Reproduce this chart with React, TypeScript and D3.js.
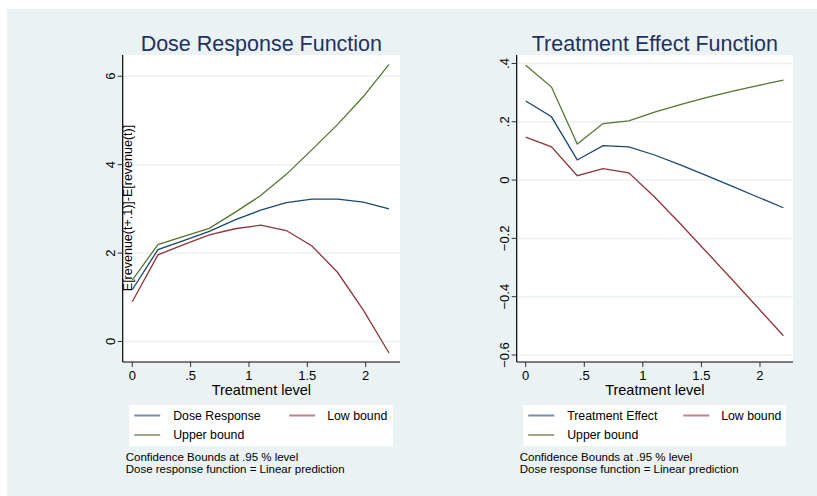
import * as d3 from "d3";

// treatment grid shared by both panels
const treatLevels = [0, 0.22, 0.44, 0.66, 0.88, 1.1, 1.32, 1.54, 1.76, 1.98, 2.2];

const doseResponse = [1.17, 2.08, 2.28, 2.49, 2.75, 2.97, 3.14, 3.22, 3.22, 3.15, 3.0];
const doseLow = [0.9, 1.96, 2.19, 2.41, 2.55, 2.63, 2.51, 2.16, 1.56, 0.71, -0.26];
const doseUpper = [1.39, 2.19, 2.38, 2.56, 2.92, 3.3, 3.78, 4.34, 4.91, 5.54, 6.27];

const effect = [0.271, 0.217, 0.069, 0.118, 0.114, 0.086, 0.052, 0.016, -0.021, -0.058, -0.095];
const effectLow = [0.147, 0.114, 0.015, 0.039, 0.025, -0.058, -0.15, -0.245, -0.34, -0.437, -0.534];
const effectUpper = [0.394, 0.319, 0.124, 0.194, 0.203, 0.233, 0.259, 0.283, 0.304, 0.324, 0.343];

const xTicks = [0, 0.5, 1, 1.5, 2];
const doseTicks = [0, 2, 4, 6];
const effectTicks = [-0.6, -0.4, -0.2, 0, 0.2, 0.4];

const notes = ["Confidence Bounds at .95 % level", "Dose response function = Linear prediction"];

const BLUE = "#1a476f";
const RED = "#90353b";
const GREEN = "#55752f";
const BG = "#eaf2f3";
const FONT = "'Liberation Sans', Arial, sans-serif";

function fmt(v: number) {
  // stata style: .5, -.2
  return d3.format("")(+v.toFixed(2)).replace(/^(-?)0\./, "$1.");
}

interface PanelProps {
  left: number;
  right: number;
  title: string;
  xDomain: [number, number];
  yDomain: [number, number];
  yTicks: number[];
  mainName: string;
  main: number[];
  low: number[];
  upper: number[];
  yLabel?: string;
}

function Panel(p: PanelProps) {
  const top = 55;
  const bottom = 362;
  const x = d3.scaleLinear().domain(p.xDomain).range([p.left, p.right]);
  const y = d3.scaleLinear().domain(p.yDomain).range([bottom, top]);
  const line = d3
    .line<number>()
    .x((_, i) => x(treatLevels[i]))
    .y((d) => y(d));
  const cx = (p.left + p.right) / 2;
  const legL = p.left + 6.5;
  const legR = p.right - 7;

  return (
    <g fontFamily={FONT}>
      <rect x={p.left} y={top} width={p.right - p.left} height={bottom - top} fill="#fff" />
      {p.yTicks.map((t) => (
        <line key={"g" + t} x1={p.left} x2={p.right} y1={y(t)} y2={y(t)} stroke={BG} strokeWidth={1.5} />
      ))}
      <path d={line(p.upper) || ""} fill="none" stroke={GREEN} strokeWidth={1.3} />
      <path d={line(p.main) || ""} fill="none" stroke={BLUE} strokeWidth={1.3} />
      <path d={line(p.low) || ""} fill="none" stroke={RED} strokeWidth={1.3} />
      <line x1={p.left} x2={p.left} y1={top} y2={bottom} stroke="#000" strokeWidth={1.2} />
      <line x1={p.left} x2={p.right} y1={bottom} y2={bottom} stroke="#000" strokeWidth={1.2} />
      {p.yTicks.map((t) => (
        <g key={"y" + t}>
          <line x1={p.left - 5} x2={p.left} y1={y(t)} y2={y(t)} stroke="#333" strokeWidth={1} />
          <text
            transform={`translate(${p.left - 8},${y(t)}) rotate(-90)`}
            textAnchor="middle"
            fontSize={13}
            fill="#000"
          >
            {fmt(t)}
          </text>
        </g>
      ))}
      {xTicks.map((t) => (
        <g key={"x" + t}>
          <line x1={x(t)} x2={x(t)} y1={bottom} y2={bottom + 5} stroke="#333" strokeWidth={1} />
          <text x={x(t)} y={379.5} textAnchor="middle" fontSize={13} fill="#000">
            {fmt(t)}
          </text>
        </g>
      ))}
      <text x={cx} y={394.5} textAnchor="middle" fontSize={14.5} fill="#000">
        Treatment level
      </text>
      <text x={cx} y={50.5} textAnchor="middle" fontSize={21.5} fill="#1f3261">
        {p.title}
      </text>
      {p.yLabel && (
        <text
          transform={`translate(${p.left + 9.5},${208}) rotate(-90)`}
          textAnchor="middle"
          fontSize={12.5}
          fill="#000"
        >
          {p.yLabel}
        </text>
      )}
      <rect x={legL} y={405} width={legR - legL} height={41} fill="#fff" />
      <line x1={legL + 5} x2={legL + 31} y1={415.5} y2={415.5} stroke={BLUE} strokeWidth={2} opacity={0.6} />
      <text x={legL + 44} y={419.5} fontSize={12.3} fill="#000">
        {p.mainName}
      </text>
      <line x1={legL + 160} x2={legL + 186} y1={415.5} y2={415.5} stroke={RED} strokeWidth={2} opacity={0.6} />
      <text x={legL + 198} y={419.5} fontSize={12.3} fill="#000">
        Low bound
      </text>
      <line x1={legL + 5} x2={legL + 31} y1={435} y2={435} stroke={GREEN} strokeWidth={2} opacity={0.6} />
      <text x={legL + 44} y={439} fontSize={12.3} fill="#000">
        Upper bound
      </text>
      {notes.map((n, i) => (
        <text key={n} x={p.left + 3} y={460.5 + i * 12.3} fontSize={11.5} fill="#000">
          {n}
        </text>
      ))}
    </g>
  );
}

export default function App() {
  return (
    <svg
      width={817}
      height={496}
      style={{ position: "absolute", left: 0, top: 0, background: "#fff" }}
    >
      <rect x={7} y={9} width={810} height={487} fill={BG} />
      <Panel
        left={122.7}
        right={400}
        title="Dose Response Function"
        xDomain={[-0.082, 2.294]}
        yDomain={[-0.464, 6.48]}
        yTicks={doseTicks}
        mainName="Dose Response"
        main={doseResponse}
        low={doseLow}
        upper={doseUpper}
        yLabel="E[revenue(t+.1)]-E[revenue(t)]"
      />
      <Panel
        left={516.7}
        right={793}
        title="Treatment Effect Function"
        xDomain={[-0.077, 2.282]}
        yDomain={[-0.624, 0.429]}
        yTicks={effectTicks}
        mainName="Treatment Effect"
        main={effect}
        low={effectLow}
        upper={effectUpper}
      />
    </svg>
  );
}
